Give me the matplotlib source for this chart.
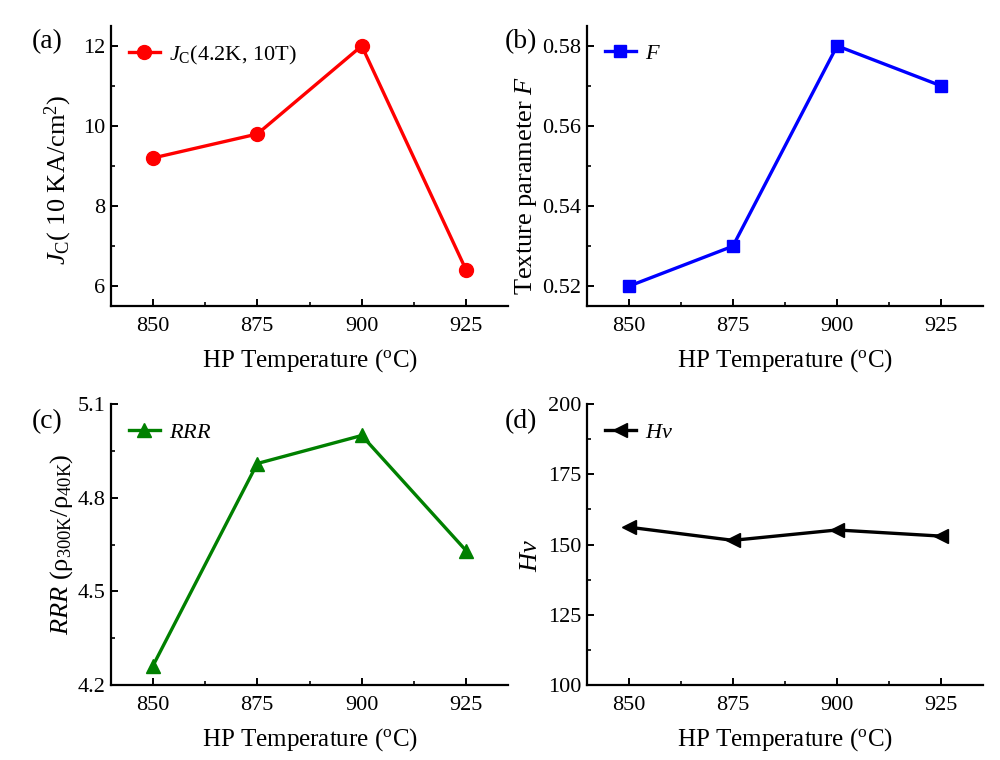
import matplotlib
matplotlib.use('Agg')
import matplotlib.pyplot as plt
from matplotlib.ticker import MultipleLocator, AutoMinorLocator

plt.rcParams['font.family'] = 'Liberation Serif'
plt.rcParams['mathtext.fontset'] = 'custom'
plt.rcParams['mathtext.rm'] = 'Liberation Serif'
plt.rcParams['mathtext.it'] = 'Liberation Serif:italic'
plt.rcParams['mathtext.bf'] = 'Liberation Serif:bold'

temps = [850, 875, 900, 925]
jc = [9.2, 9.8, 12.0, 6.4]
texture_f = [0.52, 0.53, 0.58, 0.57]
rrr = [4.26, 4.91, 5.0, 4.63]
hv = [156.2, 151.5, 155.2, 153.0]

xlabel = r'HP Temperature ($^\mathrm{o}$C)'

panels = [
    # label, y values, color, marker, ms, legend, ylabel, ylim, major step
    ('(a)', jc, '#ff0000', 'o', 10, r'$J_\mathrm{C}$(4.2K, 10T)',
     r'$J_\mathrm{C}$( 10 KA/cm$^2$)', (5.5, 12.5), 2),
    ('(b)', texture_f, '#0000ff', 's', 9, r'$F$',
     r'Texture parameter $F$', (0.515, 0.585), 0.02),
    ('(c)', rrr, '#008000', '^', 10, r'$RRR$',
     r'$RRR$ (ρ$_\mathrm{300K}$/ρ$_\mathrm{40K}$)', (4.2, 5.1), 0.3),
    ('(d)', hv, '#000000', '<', 10, r'$Hv$',
     r'$Hv$', (100, 200), 25),
]

# axes rectangles in figure fraction
rects = [
    [0.111, 0.597, 0.397, 0.369],
    [0.587, 0.597, 0.396, 0.369],
    [0.111, 0.099, 0.397, 0.369],
    [0.587, 0.099, 0.396, 0.369],
]
label_pos = [(0.032, 0.945), (0.505, 0.945), (0.032, 0.445), (0.505, 0.445)]
ylabel_pad = [6.5, 2.5, 2.2, 4.6]
ylabel_y = [0.45, 0.43, 0.5, 0.46]

fig = plt.figure(figsize=(10, 7.6), dpi=100)

for i, (lab, y, col, mk, ms, leg, ylab, ylim, step) in enumerate(panels):
    ax = fig.add_axes(rects[i])
    ax.plot(temps, y, '-', color=col, lw=2.4, marker=mk, ms=ms, label=leg)
    ax.set_xlim(840, 935)
    ax.set_ylim(*ylim)
    ax.xaxis.set_major_locator(MultipleLocator(25))
    ax.xaxis.set_minor_locator(AutoMinorLocator(2))
    ax.yaxis.set_major_locator(MultipleLocator(step))
    ax.yaxis.set_minor_locator(AutoMinorLocator(2))
    if i == 1:
        ax.yaxis.set_major_formatter(plt.FormatStrFormatter('%.2f'))
    elif i == 2:
        ax.yaxis.set_major_formatter(plt.FormatStrFormatter('%.1f'))
    ax.spines['top'].set_visible(False)
    ax.spines['right'].set_visible(False)
    ax.spines['left'].set_linewidth(1.6)
    ax.spines['bottom'].set_linewidth(1.6)
    ax.tick_params(which='major', direction='in', length=5, width=1.4, labelsize=16)
    ax.tick_params(axis='x', which='major', pad=8)
    ax.tick_params(axis='y', which='major', pad=4)
    ax.tick_params(which='minor', direction='in', length=3, width=1.2)
    ax.set_xlabel(xlabel, fontsize=18, labelpad=8)
    ax.set_ylabel(ylab, fontsize=19, labelpad=ylabel_pad[i])
    ax.yaxis.label.set_y(ylabel_y[i])
    ax.legend(loc='upper left', bbox_to_anchor=(0.0, 1.0), frameon=False,
              fontsize=16, handlelength=1.4, handletextpad=0.4, borderaxespad=0.4)
    fig.text(label_pos[i][0], label_pos[i][1], lab, fontsize=20, va='center')

plt.savefig('out.png', dpi=100)
